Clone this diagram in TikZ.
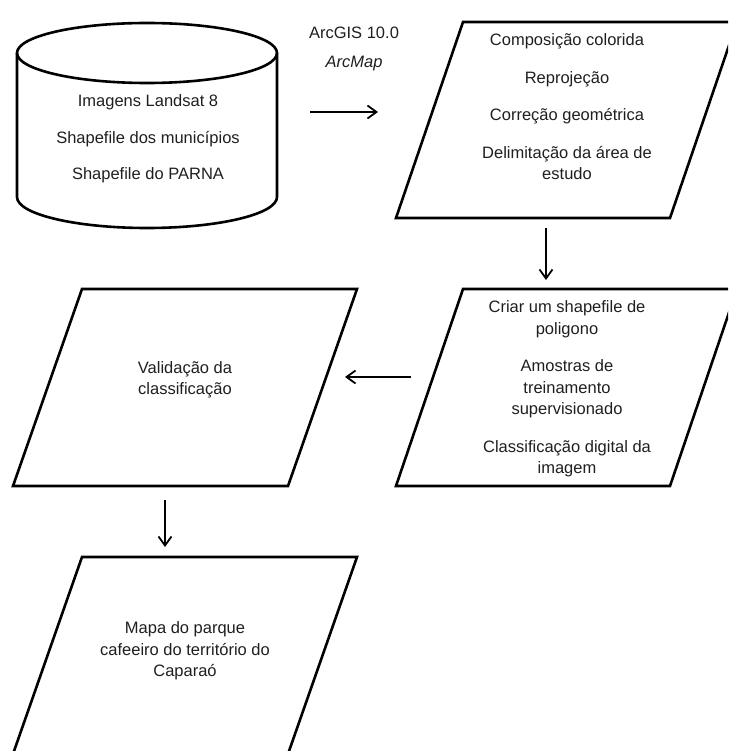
\documentclass[tikz,border=0pt]{standalone}
\usepackage{fontspec}
\setmainfont{Liberation Sans}
\usetikzlibrary{arrows.meta}
\begin{document}
\begin{tikzpicture}[x=1pt,y=-1pt,
  outline/.style={line width=2.6pt,line join=miter,black},
  txt/.style={inner sep=0pt,align=center,text=black!88,font=\fontsize{16.5}{21.5}\selectfont},
  flow/.style={line width=1.8pt,-{Straight Barb[length=9pt,width=13pt,line width=1.8pt]}}]
\useasboundingbox (0,0) rectangle (728,751);
\clip (0,0) rectangle (728,751);
% cylinder
\draw[outline] (147,53) ellipse [x radius=130,y radius=30];
\draw[outline] (17,53) -- (17,197) arc[start angle=180,end angle=0,x radius=130,y radius=31] -- (277,53);
\node[txt] (cyl) at (148,139) {Imagens Landsat 8\\[15pt]Shapefile dos munic\'ipios\\[15pt]Shapefile do PARNA};
% tool label
\node[txt] (tool) at (354,49) {ArcGIS 10.0\\[7.5pt]\itshape ArcMap};
% parallelograms
\draw[outline] (463,22) -- (737,22) -- (670,218) -- (396,218) -- cycle;
\node[txt] (p1) at (567,107) {Composição colorida\\[16pt]Reprojeção\\[16pt]Correção geométrica\\[16pt]Delimitação da área de\\estudo};
\draw[outline] (463,289) -- (737,289) -- (670,486) -- (396,486) -- cycle;
\node[txt] (p2) at (567,389) {Criar um shapefile de\\poligono\\[16pt]Amostras de\\treinamento\\supervisionado\\[16pt]Classificação digital da\\imagem};
\draw[outline] (82,289) -- (357,289) -- (288,486) -- (13,486) -- cycle;
\node[txt] (p3) at (185,380) {Validação da\\classificação};
\draw[outline] (82,557) -- (357,557) -- (288,754) -- (13,754) -- cycle;
\node[txt] (p4) at (185,651) {Mapa do parque\\cafeeiro do território do\\Caparaó};
% connectors
\coordinate (a1s) at (310,112); \coordinate (a1e) at (378,112);
\coordinate (a2s) at (546,228); \coordinate (a2e) at (546,280);
\coordinate (a3s) at (411,377); \coordinate (a3e) at (345,377);
\coordinate (a4s) at (165,500); \coordinate (a4e) at (165,547);
\draw[flow] (a1s) -- (a1e);
\draw[flow] (a2s) -- (a2e);
\draw[flow] (a3s) -- (a3e);
\draw[flow] (a4s) -- (a4e);
\end{tikzpicture}
\end{document}
